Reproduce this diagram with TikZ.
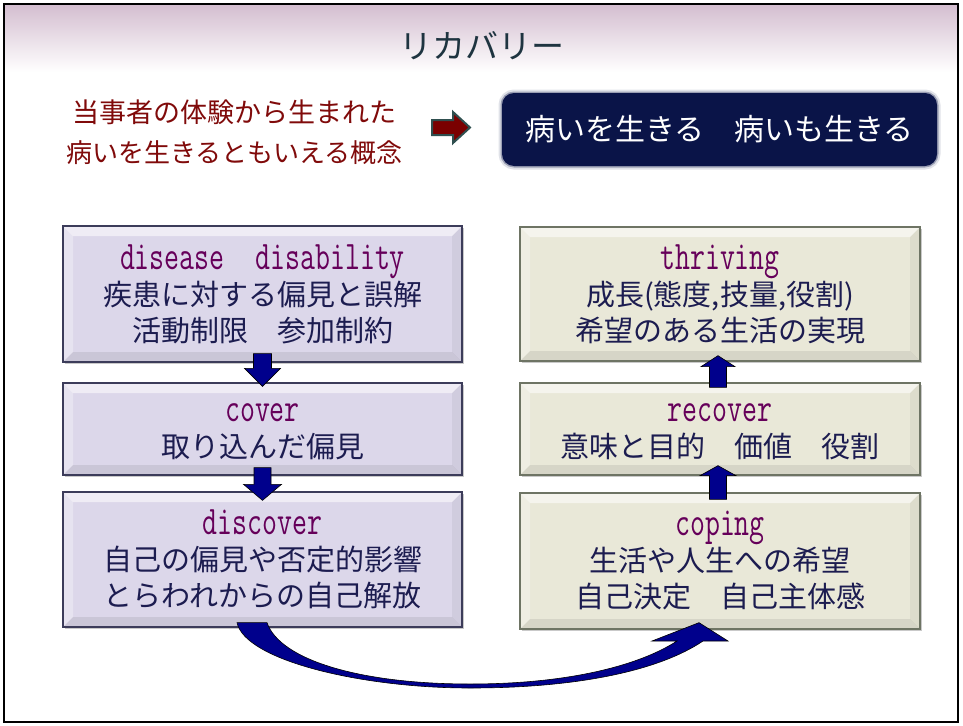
\documentclass[tikz,border=0pt]{standalone}
\usepackage{fontspec}
\setmainfont{Noto Sans CJK JP}
\usetikzlibrary{calc,shadows}
\definecolor{mauve}{RGB}{212,190,208}
\definecolor{titlec}{RGB}{30,52,64}
\definecolor{redt}{RGB}{128,10,10}
\definecolor{navybox}{RGB}{10,20,72}
\definecolor{lav}{RGB}{220,215,234}
\definecolor{lavb}{RGB}{60,60,90}
\definecolor{beige}{RGB}{233,232,216}
\definecolor{beigeb}{RGB}{110,116,100}
\definecolor{boxtext}{RGB}{28,28,80}
\definecolor{latin}{RGB}{102,0,90}
\definecolor{arrown}{RGB}{0,0,140}
\definecolor{sarrowfill}{RGB}{122,0,0}
\definecolor{sarrowdraw}{RGB}{47,79,79}
\newcommand\lat[1]{{\color{latin}\ttfamily\fontsize{29}{36}\selectfont\scalebox{1}[1.4]{#1}}}
\newcommand\strutA{\rule{0pt}{24pt}}
% block arrow: start, tip, shaft half width, head half width, signed head offset
\newcommand\blockarr[5]{%
  \filldraw[blockar] let \p1=#1, \p2=#2 in
    (\x1-#3,\y1) -- (\x1+#3,\y1) -- (\x1+#3,\y2#5) -- (\x1+#4,\y2#5) --
    (\x1,\y2) -- (\x1-#4,\y2#5) -- (\x1-#3,\y2#5) -- cycle;}
\begin{document}
\begin{tikzpicture}[x=1pt,y=-1pt,
  bevel/.style={path picture={
    \fill[white,opacity=0.55] (path picture bounding box.north west) -- (path picture bounding box.north east)
      -- ($(path picture bounding box.north east)+(-10pt,-10pt)$) -- ($(path picture bounding box.north west)+(10pt,-10pt)$) -- cycle;
    \fill[white,opacity=0.3] (path picture bounding box.north west) -- ($(path picture bounding box.north west)+(10pt,-10pt)$)
      -- ($(path picture bounding box.south west)+(10pt,10pt)$) -- (path picture bounding box.south west) -- cycle;
    \fill[black,opacity=0.05] (path picture bounding box.north east) -- ($(path picture bounding box.north east)+(-10pt,-10pt)$)
      -- ($(path picture bounding box.south east)+(-10pt,10pt)$) -- (path picture bounding box.south east) -- cycle;
    \fill[black,opacity=0.08] (path picture bounding box.south west) -- ($(path picture bounding box.south west)+(10pt,10pt)$)
      -- ($(path picture bounding box.south east)+(-10pt,10pt)$) -- (path picture bounding box.south east) -- cycle;
  }},
  box/.style={rectangle, inner sep=0pt, align=center, text=boxtext,
    font=\fontsize{29}{36}\selectfont, line width=1.3pt, bevel,
    drop shadow={shadow xshift=2pt, shadow yshift=-2pt, opacity=0.35, fill=black!60}},
  lbox/.style={box, fill=lav, draw=lavb, minimum width=399pt},
  rbox/.style={box, fill=beige, draw=beigeb, minimum width=400pt},
  blockar/.style={fill=arrown, draw=black, line width=0.6pt},
  redtext/.style={text=redt, inner sep=0pt, anchor=base west},
  darkbox/.style={rectangle, rounded corners=12pt, fill=navybox, text=white,
    minimum width=435pt, minimum height=73pt, inner sep=0pt,
    font=\fontsize{30}{30}\selectfont,
    preaction={draw=navybox!35, line width=7pt, opacity=0.35},
    preaction={draw=navybox!60, line width=3pt, opacity=0.6}},
]
\useasboundingbox (0,0) rectangle (963,725);
\fill[white] (0,0) rectangle (963,725);
% title band
\shade[top color=mauve, middle color=mauve!50, bottom color=white] (5,5) rectangle (957,72);
\draw[line width=2.2pt] (4,4) rectangle (958,722);
\node[text=titlec, inner sep=0pt, anchor=base, font=\fontsize{33}{33}\selectfont] (title) at (482,59) {リカバリー};

% red text and small arrow
\node[redtext, font=\fontsize{27}{27}\selectfont] (r1) at (72,122) {当事者の体験から生まれた};
\node[redtext, font=\fontsize{26}{26}\selectfont] (r2) at (66,162) {病いを生きるともいえる概念};
\node[darkbox] (db) at (719.5,129.5) {病いを生きる　病いも生きる};
\coordinate (sa) at (432,127.5);
\filldraw[fill=sarrowfill, draw=sarrowdraw, line width=2pt]
  (sa) ++(0,-7.5) -- ++(21,0) -- ++(0,-8) -- ++(17,15.5) -- ++(-17,15.5) -- ++(0,-8) -- ++(-21,0) -- cycle;

% left column
\node[lbox, minimum height=136pt] (b1) at (262.5,294)
  {\strutA\lat{disease\hspace{31pt}disability}\\疾患に対する偏見と誤解\\活動制限　参加制約};
\node[lbox, minimum height=92pt] (b2) at (262.5,429)
  {\strutA\lat{cover}\\取り込んだ偏見};
\node[lbox, minimum height=135pt] (b3) at (262.5,559.5)
  {\strutA\lat{discover}\\自己の偏見や否定的影響\\とらわれからの自己解放};

% right column
\node[rbox, minimum height=134pt] (b4) at (720,294)
  {\strutA\lat{thriving}\\成長(態度,技量,役割)\\希望のある生活の実現};
\node[rbox, minimum height=92pt] (b5) at (720,429)
  {\strutA\lat{recover}\\意味と目的　価値　役割};
\node[rbox, minimum height=136pt] (b6) at (720,561)
  {\strutA\lat{coping}\\生活や人生への希望\\自己決定　自己主体感};

% connectors
\blockarr{($(b1.south)+(0,-9)$)}{($(b2.north)+(0,4)$)}{9pt}{18pt}{+18pt}
\blockarr{($(b2.south)+(0,-8)$)}{($(b3.north)+(0,9)$)}{8.5pt}{19pt}{+16pt}
\blockarr{($(b6.north)+(-2,7)$)}{($(b5.south)+(-2,-10)$)}{8.5pt}{18pt}{-10pt}
\blockarr{($(b5.north)+(-2,5)$)}{($(b4.south)+(-2,-6)$)}{8.5pt}{17pt}{-11pt}

% curved arrow from discover to coping
\filldraw[blockar]
  ($(b3.south)+(-25.5,-5)$) .. controls (245,660) and (360,688) .. (470,688)
  .. controls (580,688) and (660,670) .. (703,641) -- (728,641)
  -- ($(b6.south)+(-21,-7)$) -- (652,641) -- (677,641)
  .. controls (640,665) and (570,684) .. (470,684)
  .. controls (360,684) and (280,660) .. ($(b3.south)+(4.5,-5)$) -- cycle;
\end{tikzpicture}
\end{document}
